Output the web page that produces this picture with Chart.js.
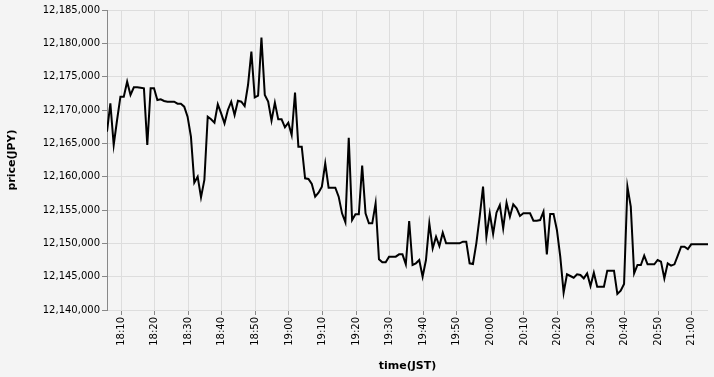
<!DOCTYPE html>
<html>
<head>
<meta charset="utf-8">
<script src="https://cdn.jsdelivr.net/npm/chart.js@4"></script>
<style>
  html, body { margin: 0; padding: 0; background: #f4f4f4; }
  #wrap { width: 714px; height: 377px; }
</style>
</head>
<body>
<div id="wrap"><canvas id="chart" width="714" height="377"></canvas></div>
<script>
// 1分ごとの価格 (18:05頃 〜 21:05頃)
const startMinute = 18 * 60 + 5.82;

const prices = [
  12166750, 12171000, 12164750, 12168500, 12172000, 12172000, 12174250, 12172250, 12173400, 12173400,
  12173350, 12173250, 12164750, 12173250, 12173250, 12171500, 12171600, 12171350, 12171250, 12171250,
  12171250, 12170950, 12170950, 12170500, 12169000, 12166000, 12159100, 12160000, 12156900, 12159500,
  12169000, 12168600, 12168100, 12170850, 12169500, 12168000, 12170000, 12171250, 12169250, 12171400,
  12171250, 12170600, 12173750, 12178750, 12171900, 12172150, 12180850, 12172250, 12171250, 12168400,
  12171100, 12168600, 12168600, 12167400, 12168100, 12166250, 12172600, 12164500, 12164500, 12159750,
  12159650, 12158900, 12157000, 12157600, 12158500, 12162000, 12158350, 12158350, 12158350, 12157000,
  12154500, 12153150, 12165850, 12153500, 12154350, 12154350, 12161650, 12154500, 12153000, 12153000,
  12156000, 12147600, 12147150, 12147150, 12148000, 12148000, 12148000, 12148350, 12148350, 12146850,
  12153350, 12146750, 12147000, 12147500, 12145000, 12147500, 12153000, 12149250, 12151000, 12149600,
  12151600, 12150000, 12150000, 12150000, 12150000, 12150000, 12150250, 12150250, 12147000, 12146900,
  12150000, 12154000, 12158500, 12151000, 12154500, 12151400, 12154600, 12155750, 12152250, 12156100,
  12154000, 12155850, 12155250, 12154100, 12154500, 12154500, 12154500, 12153400, 12153400, 12153500,
  12154750, 12148350, 12154400, 12154400, 12152000, 12148000, 12142600, 12145350, 12145100, 12144850,
  12145350, 12145250, 12144750, 12145500, 12143600, 12145600, 12143500, 12143500, 12143500, 12145900,
  12145900, 12145900, 12142400, 12142900, 12143900, 12158500, 12155500, 12145500, 12146750, 12146750,
  12148150, 12146850, 12146850, 12146850, 12147500, 12147250, 12144750, 12147000, 12146650, 12146850,
  12148150, 12149500, 12149500, 12149150, 12149850, 12149850, 12149850, 12149850, 12149850, 12149850
];

const times = prices.map((p, i) => startMinute + i);

const tickLabels = ['18:10', '18:20', '18:30', '18:40', '18:50', '19:00', '19:10', '19:20', '19:30',
  '19:40', '19:50', '20:00', '20:10', '20:20', '20:30', '20:40', '20:50', '21:00'];

const yMin = 12140000, yMax = 12185000, yStep = 5000;

function toMinutes(label) {
  const parts = label.split(':');
  return Number(parts[0]) * 60 + Number(parts[1]);
}

const fontBase = { family: '"DejaVu Sans", sans-serif', size: 10 };

const ctx = document.getElementById('chart');

new Chart(ctx, {
  type: 'line',
  data: {
    datasets: [{
      label: 'price',
      data: times.map((t, i) => ({ x: t, y: prices[i] })),
      borderColor: '#000',
      borderWidth: 2,
      pointRadius: 0,
      tension: 0,
      fill: false
    }]
  },
  options: {
    responsive: false,
    animation: false,
    layout: { padding: { top: 10, right: 6, left: 0, bottom: 0 } },
    plugins: {
      legend: { display: false },
      tooltip: { enabled: false }
    },
    scales: {
      x: {
        type: 'linear',
        min: times[0],
        max: times[times.length - 1],
        afterBuildTicks: (scale) => {
          scale.ticks = tickLabels.map(l => ({ value: toMinutes(l) }));
        },
        afterFit: (scale) => { scale.height = 67; },
        ticks: {
          autoSkip: false,
          minRotation: 90,
          maxRotation: 90,
          padding: 2,
          color: '#000',
          font: fontBase,
          callback: (v) => {
            const h = Math.floor(v / 60), m = Math.round(v % 60);
            return h + ':' + String(m).padStart(2, '0');
          }
        },
        grid: { color: '#dddddd', tickColor: '#888', tickLength: 5, lineWidth: 1 },
        border: { display: false },
        title: {
          display: true,
          text: 'time(JST)',
          color: '#000',
          font: { family: '"DejaVu Sans", sans-serif', size: 11, weight: 'bold' },
          padding: { top: 4, bottom: 4 }
        }
      },
      y: {
        min: yMin,
        max: yMax,
        afterFit: (scale) => { scale.width = 107; },
        ticks: {
          stepSize: yStep,
          padding: 2,
          color: '#000',
          font: fontBase,
          callback: (v) => v.toLocaleString('en-US')
        },
        grid: { color: '#dddddd', tickColor: '#888', tickLength: 5, lineWidth: 1 },
        border: { display: true, color: '#888', width: 1 },
        title: {
          display: true,
          text: 'price(JPY)',
          color: '#000',
          font: { family: '"DejaVu Sans", sans-serif', size: 11, weight: 'bold' },
          padding: { top: 6, bottom: 4 }
        }
      }
    }
  }
});
</script>
</body>
</html>
